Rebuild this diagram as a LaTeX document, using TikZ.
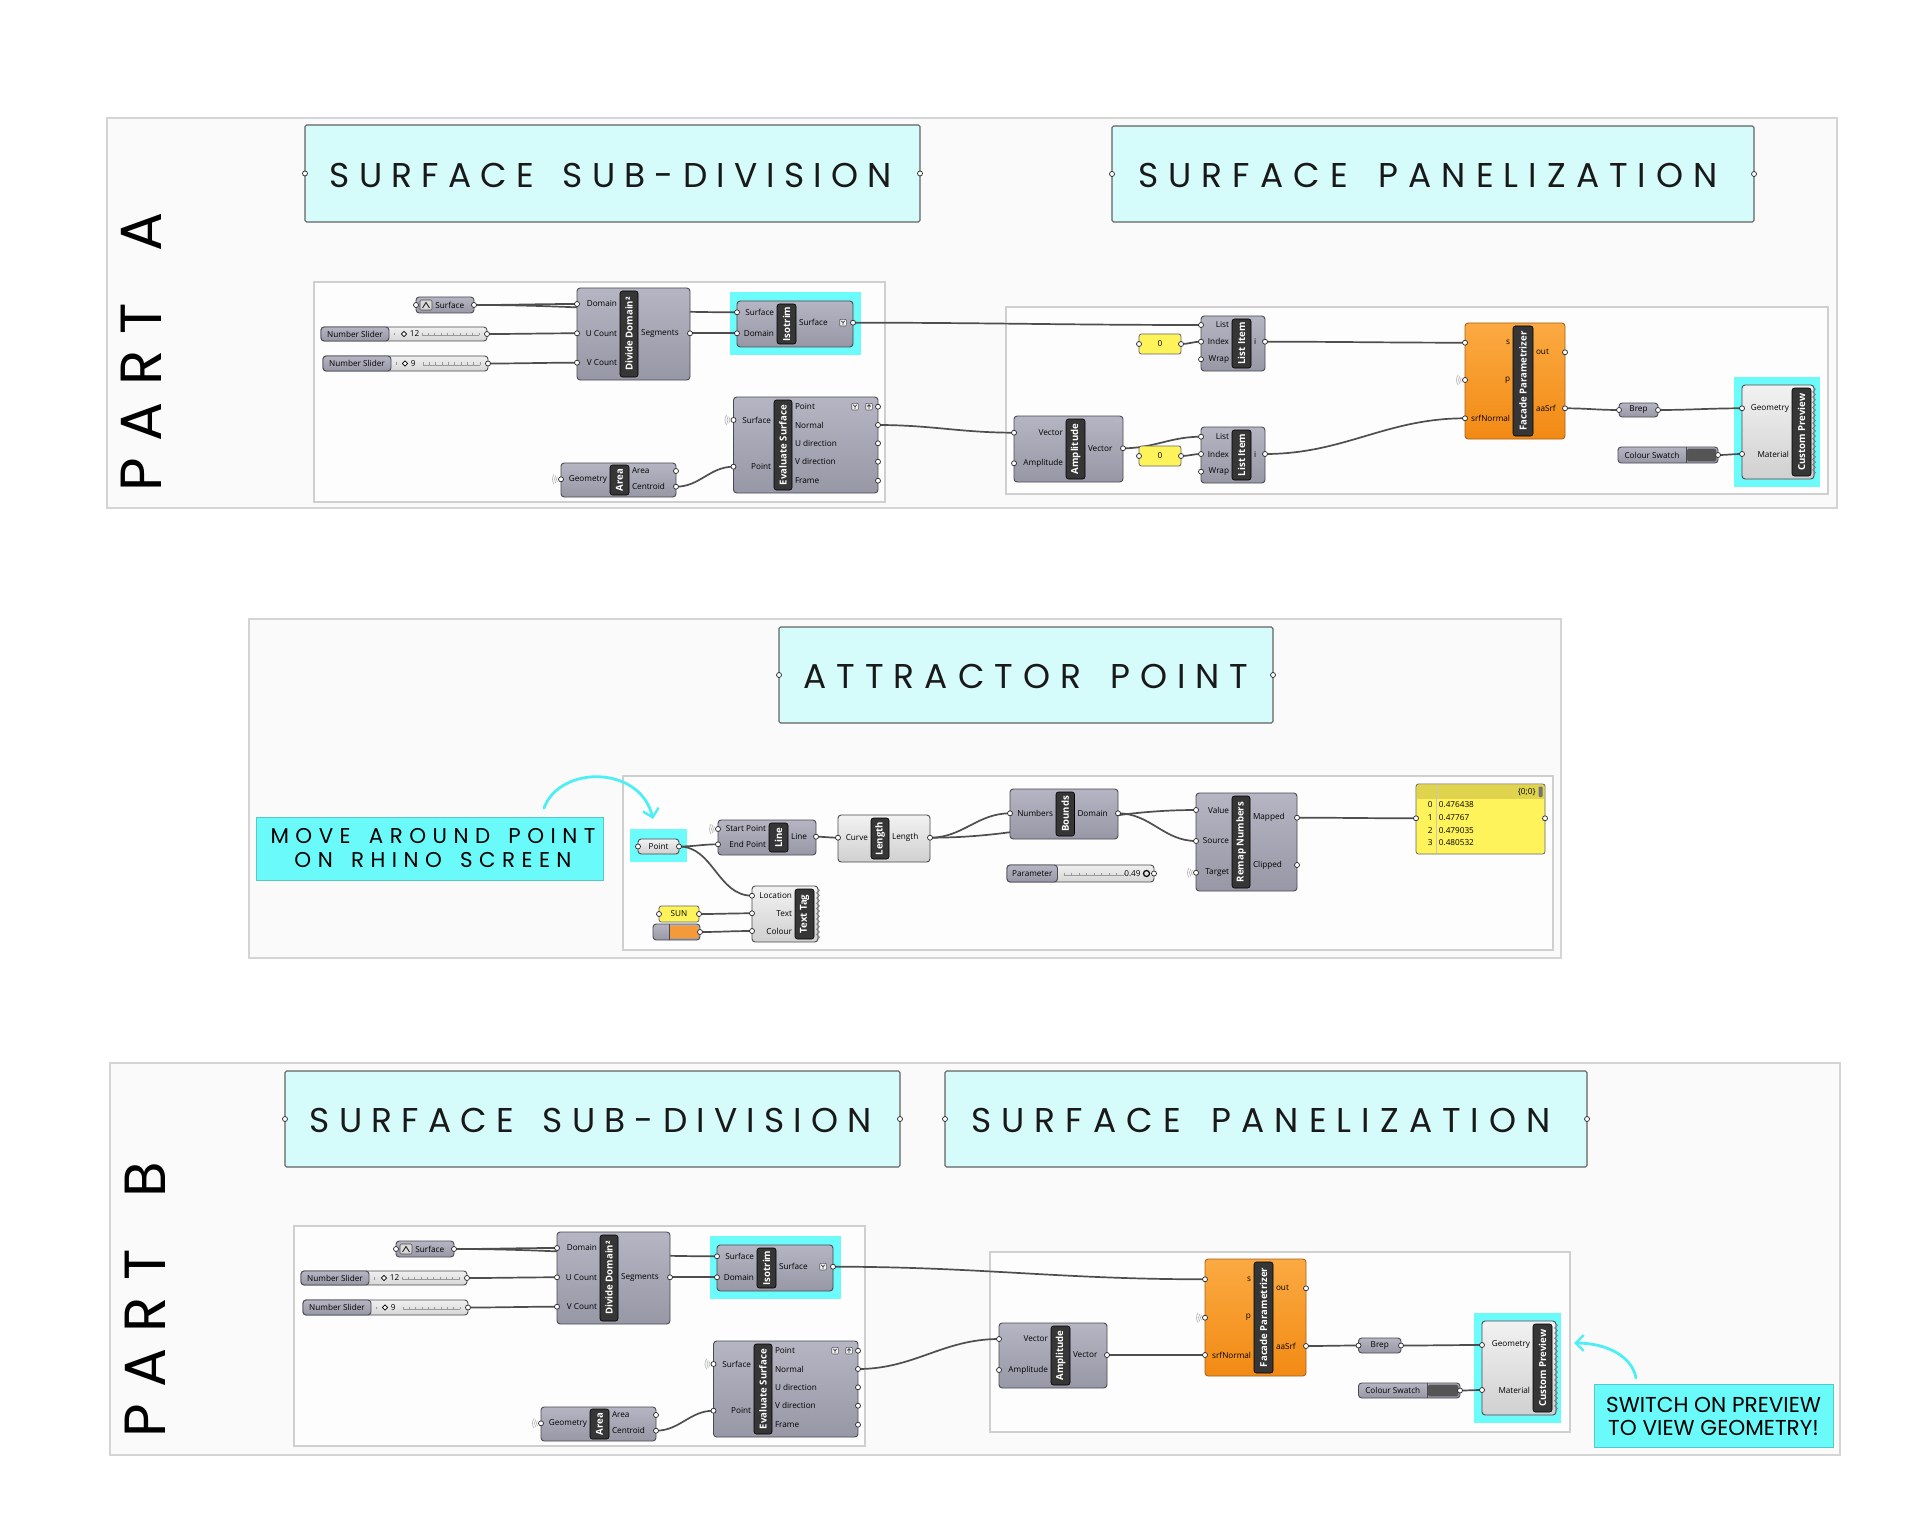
\documentclass[tikz,border=0pt]{standalone}
\usepackage{fontspec}
\setmainfont{Open Sans}
\newfontfamily\gfont{Open Sans}
\newfontfamily\hfontA[LetterSpace=26.8,WordSpace=1.55]{Poppins}
\newfontfamily\hfontB[LetterSpace=29.3,WordSpace=1.6]{Poppins}
\newfontfamily\hfontC[LetterSpace=29.2,WordSpace=1.5]{Poppins}
\newfontfamily\mfont[LetterSpace=30.2,WordSpace=1.5]{Poppins}
\newfontfamily\pfont[LetterSpace=28.4,WordSpace=1.6]{Poppins}
\newfontfamily\nfont{Poppins}
\usetikzlibrary{arrows.meta,decorations.pathmorphing}
\pgfdeclarelayer{back}
\pgfdeclarelayer{wires}
\pgfsetlayers{back,wires,main}

\definecolor{frameFill}{HTML}{FAFAFA}
\definecolor{frameLine}{HTML}{D4D4D4}
\definecolor{grpFill}{HTML}{FDFDFD}
\definecolor{grpLine}{HTML}{CFCFCF}
\definecolor{hdrFill}{HTML}{D6FBFB}
\definecolor{hdrLine}{HTML}{626262}
\definecolor{cyanHL}{HTML}{6CFBFB}
\definecolor{noteFill}{HTML}{6BFAFA}
\definecolor{arrowC}{HTML}{4EEFF4}
\definecolor{cTop}{HTML}{B6B5C3}
\definecolor{cBot}{HTML}{9897A6}
\definecolor{cLine}{HTML}{4A4A52}
\definecolor{lTop}{HTML}{F2F2F2}
\definecolor{lBot}{HTML}{D0D0D0}
\definecolor{oTop}{HTML}{FBAA42}
\definecolor{oBot}{HTML}{F28A14}
\definecolor{oLine}{HTML}{A8601C}
\definecolor{stripC}{HTML}{363636}
\definecolor{wireC}{HTML}{4E4E4E}
\definecolor{panY}{HTML}{FFF35C}
\definecolor{panH}{HTML}{E0D44E}
\definecolor{swOr}{HTML}{F59A3A}
\definecolor{swDk}{HTML}{555555}

\tikzset{
  frame/.style={fill=frameFill, draw=frameLine, line width=0.6pt},
  grp/.style={fill=grpFill, draw=grpLine, line width=0.6pt},
  hdr/.style={fill=hdrFill, draw=hdrLine, line width=0.55pt, rounded corners=0.8pt},
  hl/.style={fill=cyanHL, draw=none},
  note/.style={fill=noteFill, draw=noteFill!80!black, line width=0.3pt},
  comp/.style={draw=cLine, line width=0.45pt, rounded corners=1.6pt, top color=cTop, bottom color=cBot},
  lcomp/.style={draw=cLine, line width=0.45pt, rounded corners=1.6pt, top color=lTop, bottom color=lBot},
  ocomp/.style={draw=oLine, line width=0.45pt, rounded corners=1.6pt, top color=oTop, bottom color=oBot},
  slb/.style={draw=cLine, line width=0.45pt, rounded corners=1.6pt, top color=white!94!black, bottom color=white!84!black},
  ypan/.style={draw=black!60, line width=0.4pt, rounded corners=1.2pt, fill=panY},
  stripbox/.style={fill=stripC, draw=black, line width=0.3pt, rounded corners=1.2pt},
  stxt/.style={text=white, font=\gfont\bfseries\fontsize{4.8}{5.5}\selectfont, inner sep=0pt, rotate=90},
  ptxt/.style={text=black, font=\gfont\fontsize{4.1}{5}\selectfont, inner sep=0pt},
  wire/.style={draw=wireC, line width=0.85pt},
  htxtA/.style={font=\hfontA\fontsize{17.2}{20}\selectfont, inner sep=0pt, text=black!90},
  htxtB/.style={font=\hfontB\fontsize{17.2}{20}\selectfont, inner sep=0pt, text=black!90},
  htxtC/.style={font=\hfontC\fontsize{17.2}{20}\selectfont, inner sep=0pt, text=black!90},
  parttxt/.style={font=\pfont\fontsize{29}{32}\selectfont, inner sep=0pt, rotate=90, text=black},
  mtxt/.style={font=\mfont\fontsize{10.7}{12}\selectfont, inner sep=0pt},
  swtxt/.style={font=\nfont\fontsize{10.8}{12}\selectfont, inner sep=0pt},
  hand/.style={draw=arrowC, line width=1.4pt, line cap=round, -{Straight Barb[length=4pt,width=8pt,line width=1.2pt]}},
}

\newcommand\ghbox[6]{\node[#6, inner sep=0pt, outer sep=0pt, minimum width={(#4-#2)*0.5pt}, minimum height={(#5-#3)*0.5pt}] (#1) at ({(#2+#4)/2},{(#3+#5)/2}) {};}
\newcommand\ghstrip[6]{\ghbox{#1}{#2}{#3}{#4}{#5}{stripbox}\node[stxt] (#1-t) at (#1.center) {#6};}
\newcommand\ghgrip[1]{\filldraw[draw=black!85, fill=white, line width=0.35pt] (#1) circle[radius=1.25pt];}
\newcommand\ghin[5]{\coordinate (#1) at (#2,#3);\node[ptxt, anchor=east, xshift=-1.3pt] (#1-l) at (#4.west |- #1) {#5};\ghgrip{#1}}
\newcommand\ghout[5]{\coordinate (#1) at (#2,#3);\node[ptxt, anchor=west, xshift=1.3pt] (#1-l) at (#4.east |- #1) {#5};\ghgrip{#1}}
\newcommand\ghwl[1]{\foreach \rr in {4.5,6.5,8.5}{\draw[black!28, line width=0.35pt] (#1) ++(145:\rr) arc[start angle=145, end angle=215, radius=\rr];}}
\newcommand\ghwire[2]{\draw[wire] (#1) to[out=0,in=180] (#2);}
\newcommand\ghzig[3]{\draw[black!55, line width=0.35pt, decorate, decoration={zigzag, amplitude=0.7pt, segment length=2.6pt}] (#1,#2) -- (#1,#3);}
\newcommand\ghyp[6]{\ghbox{#1}{#2}{#3}{#4}{#5}{ypan}\node[ptxt] (#1-t) at (#1.center) {#6};%
 \coordinate (#1-in) at (#2,{(#3+#5)/2});\coordinate (#1-out) at (#4,{(#3+#5)/2});\ghgrip{#1-in}\ghgrip{#1-out}}
\newcommand\ghparam[7]{\ghbox{#1}{#2}{#3}{#4}{#5}{#7}\node[ptxt] (#1-t) at (#1.center) {#6};%
 \coordinate (#1-in) at (#2,{(#3+#5)/2});\coordinate (#1-out) at (#4,{(#3+#5)/2});\ghgrip{#1-in}\ghgrip{#1-out}}
\newcommand\ghswatch[8]{\ghbox{#1}{#2}{#3}{#4}{#5}{comp}%
 \fill[#8, rounded corners=0.8pt] (#6+0.8,#3+1.6) rectangle (#4-1.6,#5-1.6);%
 \draw[cLine, line width=0.3pt] (#6,#3) -- (#6,#5);%
 \node[ptxt] (#1-l) at ({(#2+#6)/2},{(#3+#5)/2}) {#7};%
 \coordinate (#1-out) at (#4,{(#3+#5)/2});\ghgrip{#1-out}}
\newcommand\ghslider[9]{\ghbox{#1}{#2}{#3}{#4}{#5}{slb}%
 \ghbox{#1-k}{#2}{#3}{#6}{#5}{comp}%
 \node[ptxt] (#1-l) at (#1-k.center) {#7};%
 \draw[black!40, line width=0.25pt] (#9+18,{(#3+#5)/2+1.5}) -- (#4-8,{(#3+#5)/2+1.5});%
 \foreach \t in {0,...,9}{\draw[black!40, line width=0.25pt] ({#9+18+\t*(#4-#9-26)/9},{(#3+#5)/2+1.5}) -- ++(0,-2.5);}%
 \draw[black!40, line width=0.25pt] (#6+5,{(#3+#5)/2+1.5}) -- ++(0,-2.5);%
 \draw[black, line width=0.4pt, fill=white] (#9,{(#3+#5)/2-2.6}) -- ++(2.6,2.6) -- ++(-2.6,2.6) -- ++(-2.6,-2.6) -- cycle;%
 \node[ptxt, anchor=west] (#1-v) at (#9+5.5,{(#3+#5)/2}) {#8};%
 \coordinate (#1-out) at (#4,{(#3+#5)/2});\ghgrip{#1-out}}
\newcommand\ghficon[2]{\draw[black!65, fill=black!6, line width=0.3pt, rounded corners=0.4pt] (#1-3.3,#2-3.3) rectangle (#1+3.3,#2+3.3);%
 \draw[black!75, line width=0.4pt] (#1-1.8,#2-1.9) -- (#1,#2) -- (#1+1.8,#2-1.9) (#1,#2) -- (#1,#2+2.2);}
\newcommand\ghuicon[2]{\draw[black!65, fill=black!6, line width=0.3pt, rounded corners=0.4pt] (#1-3.3,#2-3.3) rectangle (#1+3.3,#2+3.3);%
 \draw[black!75, line width=0.4pt] (#1,#2+2.2) -- (#1,#2-2) (#1-1.7,#2-0.3) -- (#1,#2-2) -- (#1+1.7,#2-0.3);}

\newcommand\ghgroupone{%
 \begin{pgfonlayer}{back}
  \ghbox{g1}{314}{282}{885}{502}{grp}
  \ghbox{isohl}{730}{292}{861}{355}{hl}
 \end{pgfonlayer}
 \ghbox{surf}{416}{297}{474}{313}{comp}
 \draw[black!70, fill=white!85!black, line width=0.3pt, rounded corners=0.6pt] (420,300) rectangle (432,310);
 \draw[black!85, line width=0.45pt] (422.5,308) -- (426,302.5) -- (429.5,308);
 \node[ptxt, anchor=west] (surf-l) at (435,305) {Surface};
 \coordinate (surf-in) at (416,305);\coordinate (surf-out) at (474,305);
 \ghgrip{surf-in}\ghgrip{surf-out}
 \ghslider{sl1}{321}{327}{487}{341}{389}{Number Slider}{12}{404}
 \ghslider{sl2}{323}{356}{488}{371}{391}{Number Slider}{9}{405}
 \ghbox{dd}{577}{288}{690}{380}{comp}
 \ghstrip{dd-s}{620}{291}{638}{377}{Divide Domain²}
 \ghin{dd-dom}{577}{304}{dd-s}{Domain}
 \ghin{dd-u}{577}{333.3}{dd-s}{U Count}
 \ghin{dd-v}{577}{362.7}{dd-s}{V Count}
 \ghout{dd-seg}{690}{333.3}{dd-s}{Segments}
 \ghbox{iso}{737}{301}{853}{347}{comp}
 \ghstrip{iso-s}{777}{304}{796}{344}{Isotrim}
 \ghin{iso-srf}{737}{312.3}{iso-s}{Surface}
 \ghin{iso-dom}{737}{333.3}{iso-s}{Domain}
 \ghout{iso-out}{853}{322.7}{iso-s}{Surface}
 \ghficon{843}{322.7}
 \ghbox{evs}{733.5}{397}{878}{493}{comp}
 \ghstrip{evs-s}{774}{400}{792}{490}{Evaluate Surface}
 \ghin{evs-srf}{733.5}{420}{evs-s}{Surface}
 \ghin{evs-pt}{733.5}{466.7}{evs-s}{Point}
 \ghout{evs-p}{878}{406.7}{evs-s}{Point}
 \ghout{evs-n}{878}{425}{evs-s}{Normal}
 \ghout{evs-u}{878}{443.3}{evs-s}{U direction}
 \ghout{evs-v}{878}{461.7}{evs-s}{V direction}
 \ghout{evs-f}{878}{480.7}{evs-s}{Frame}
 \ghficon{855}{406.7}\ghuicon{869}{406.7}
 \ghwl{evs-srf}
 \ghbox{ar}{561}{463}{676}{497}{comp}
 \ghstrip{ar-s}{610}{465}{629}{495}{Area}
 \ghin{ar-g}{561}{479.3}{ar-s}{Geometry}
 \ghout{ar-a}{676}{471}{ar-s}{Area}
 \ghout{ar-c}{676}{486.7}{ar-s}{Centroid}
 \ghwl{ar-g}
 \begin{pgfonlayer}{wires}
  \ghwire{surf-out}{dd-dom}
  \ghwire{surf-out}{iso-srf}
  \ghwire{sl1-out}{dd-u}
  \ghwire{sl2-out}{dd-v}
  \ghwire{dd-seg}{iso-dom}
  \ghwire{ar-c}{evs-pt}
 \end{pgfonlayer}
}

\begin{document}
\begin{tikzpicture}[x=0.5pt,y=-0.5pt]
\useasboundingbox (0,0) rectangle (1920,1535);
\begin{pgfonlayer}{back}
 \fill[white] (0,0) rectangle (1920,1535);
 \ghbox{frA}{107}{118}{1837}{508}{frame}
 \ghbox{frM}{249}{619}{1561}{958}{frame}
 \ghbox{frB}{110}{1063}{1840}{1455}{frame}
 \ghbox{gA2}{1006}{307}{1828}{494}{grp}
 \ghbox{gM}{623}{776}{1553}{950}{grp}
 \ghbox{gB2}{990}{1252}{1570}{1432}{grp}
 \ghbox{cpA-hl}{1734}{377}{1820}{487}{hl}
 \ghbox{cpB-hl}{1474}{1313}{1561}{1423}{hl}
 \ghbox{pt-hl}{630}{829}{687}{862}{hl}
\end{pgfonlayer}

% headers
\ghbox{hA1}{305}{125}{920}{222}{hdr}
\node[htxtA] (hA1-t) at (611,175) {SURFACE SUB-DIVISION};
\ghgrip{hA1.west}\ghgrip{hA1.east}
\ghbox{hA2}{1112}{126}{1754}{222}{hdr}
\node[htxtB] (hA2-t) at (1428,175) {SURFACE PANELIZATION};
\ghgrip{hA2.west}\ghgrip{hA2.east}
\ghbox{hM}{779}{627}{1273}{723}{hdr}
\node[htxtC] (hM-t) at (1026,676) {ATTRACTOR POINT};
\ghgrip{hM.west}\ghgrip{hM.east}
\ghbox{hB1}{285}{1071}{900}{1167}{hdr}
\node[htxtA] (hB1-t) at (591,1120) {SURFACE SUB-DIVISION};
\ghgrip{hB1.west}\ghgrip{hB1.east}
\ghbox{hB2}{945}{1071}{1587}{1167}{hdr}
\node[htxtB] (hB2-t) at (1261,1120) {SURFACE PANELIZATION};
\ghgrip{hB2.west}\ghgrip{hB2.east}

\node[parttxt] (pA) at (141,352) {PART A};
\node[parttxt] (pB) at (145,1300) {PART B};

% group one, A and B
\begin{scope}[name prefix=a-]
 \ghgroupone
\end{scope}
\begin{scope}[shift={(-20,944)}, name prefix=b-]
 \ghgroupone
\end{scope}

% ---------- Part A panelization ----------
\ghyp{yA1}{1139}{334}{1181}{354}{0}
\ghbox{li1}{1201}{316}{1265}{371}{comp}
\ghstrip{li1-s}{1232}{319}{1251}{368}{List Item}
\ghin{li1-l}{1201}{325}{li1-s}{List}
\ghin{li1-x}{1201}{341.7}{li1-s}{Index}
\ghin{li1-w}{1201}{359.3}{li1-s}{Wrap}
\ghout{li1-o}{1265}{341.7}{li1-s}{i}
\ghbox{ampA}{1014}{416}{1123}{482}{comp}
\ghstrip{ampA-s}{1066}{419}{1085}{479}{Amplitude}
\ghin{ampA-v}{1014}{432.7}{ampA-s}{Vector}
\ghin{ampA-a}{1014}{463.3}{ampA-s}{Amplitude}
\ghout{ampA-o}{1123}{448.3}{ampA-s}{Vector}
\ghyp{yA2}{1139}{446}{1181}{466}{0}
\ghbox{li2}{1201}{427}{1265}{483}{comp}
\ghstrip{li2-s}{1232}{430}{1251}{480}{List Item}
\ghin{li2-l}{1201}{436.7}{li2-s}{List}
\ghin{li2-x}{1201}{454}{li2-s}{Index}
\ghin{li2-w}{1201}{471.7}{li2-s}{Wrap}
\ghout{li2-o}{1265}{454}{li2-s}{i}
\ghbox{facA}{1465}{323}{1565}{439}{ocomp}
\ghstrip{facA-s}{1513}{326}{1533}{436}{Facade Parametrizer}
\ghin{facA-i}{1465}{342.7}{facA-s}{s}
\ghin{facA-p}{1465}{380}{facA-s}{p}
\ghin{facA-n}{1465}{418.3}{facA-s}{srfNormal}
\ghout{facA-o}{1565}{352.3}{facA-s}{out}
\ghout{facA-a}{1565}{408.3}{facA-s}{aaSrf}
\ghwl{facA-p}
\ghparam{brA}{1619}{403}{1658}{417}{Brep}{comp}
\ghbox{cpA}{1742}{385}{1814}{479}{lcomp}
\ghstrip{cpA-s}{1792}{388}{1811}{476}{Custom Preview}
\ghzig{1814}{388}{476}
\ghin{cpA-g}{1742}{408.3}{cpA-s}{Geometry}
\ghin{cpA-m}{1742}{454}{cpA-s}{Material}
\ghswatch{csA}{1618}{447}{1718}{463}{1686}{Colour Swatch}{swDk}
\begin{pgfonlayer}{wires}
 \ghwire{a-iso-out}{li1-l}
 \ghwire{yA1-out}{li1-x}
 \ghwire{li1-o}{facA-i}
 \ghwire{a-evs-n}{ampA-v}
 \ghwire{ampA-o}{li2-l}
 \ghwire{yA2-out}{li2-x}
 \ghwire{li2-o}{facA-n}
 \ghwire{facA-a}{brA-in}
 \ghwire{brA-out}{cpA-g}
 \ghwire{csA-out}{cpA-m}
\end{pgfonlayer}

% ---------- Attractor ----------
\ghbox{mv}{256}{817}{603}{880}{note}
\node[mtxt] (mv-1) at (433,836) {MOVE AROUND POINT};
\node[mtxt] (mv-2) at (433,860) {ON RHINO SCREEN};
\coordinate (arM-a) at (544,808);
\coordinate (arM-b) at (653,819);
\draw[hand] (arM-a) .. controls (560,765) and (640,765) .. (arM-b);

\ghparam{pt}{638}{839}{679}{854}{Point}{lcomp}
\ghbox{ln}{718}{820}{816}{855}{comp}
\ghstrip{ln-s}{769}{823}{788}{852}{Line}
\ghin{ln-a}{718}{829}{ln-s}{Start Point}
\ghin{ln-b}{718}{844.3}{ln-s}{End Point}
\ghout{ln-o}{816}{836.7}{ln-s}{Line}
\ghwl{ln-a}
\ghbox{tt}{752}{886}{818}{942}{lcomp}
\ghstrip{tt-s}{795}{889}{814}{939}{Text Tag}
\ghzig{818}{889}{939}
\ghin{tt-loc}{752}{895.7}{tt-s}{Location}
\ghin{tt-t}{752}{913.3}{tt-s}{Text}
\ghin{tt-c}{752}{931}{tt-s}{Colour}
\ghyp{sun}{659}{906}{699}{922}{SUN}
\ghswatch{sw2}{653}{924}{700}{940}{669}{}{swOr}
\ghbox{len}{838}{815}{930}{862}{lcomp}
\ghstrip{len-s}{871}{818}{889}{859}{Length}
\ghin{len-c}{838}{837.7}{len-s}{Curve}
\ghout{len-o}{930}{837.7}{len-s}{Length}
\ghbox{bnd}{1010}{789}{1118}{839}{comp}
\ghstrip{bnd-s}{1056}{792}{1074.5}{836}{Bounds}
\ghin{bnd-n}{1010}{813.3}{bnd-s}{Numbers}
\ghout{bnd-o}{1118}{813.3}{bnd-s}{Domain}
\ghbox{rmp}{1196}{793}{1297}{891}{comp}
\ghstrip{rmp-s}{1232}{796}{1250}{888}{Remap Numbers}
\ghin{rmp-v}{1196}{810}{rmp-s}{Value}
\ghin{rmp-s2}{1196}{841}{rmp-s}{Source}
\ghin{rmp-t}{1196}{872.7}{rmp-s}{Target}
\ghout{rmp-m}{1297}{817.7}{rmp-s}{Mapped}
\ghout{rmp-c}{1297}{865}{rmp-s}{Clipped}
\ghwl{rmp-t}
% parameter slider
\ghbox{prm}{1007}{865}{1154}{882}{slb}
\ghbox{prm-k}{1007}{865}{1057.5}{882}{comp}
\node[ptxt] (prm-l) at (prm-k.center) {Parameter};
\draw[black!40, line width=0.25pt] (1064,875) -- (1124,875);
\foreach \t in {0,...,8}{\draw[black!40, line width=0.25pt] ({1064+\t*7.5},875) -- ++(0,-2.5);}
\node[ptxt, anchor=east] (prm-v) at (1141,873.5) {0.49};
\draw[black, line width=0.6pt] (1146.5,873.5) circle[radius=1.5pt];
\coordinate (prm-out) at (1154,873.5);\ghgrip{prm-out}
% panel
\ghbox{pan}{1416}{784}{1545}{854}{ypan}
\fill[panH] (1416.8,784.8) rectangle (1544.2,799);
\draw[black!22, line width=0.3pt] (1436,785) -- (1436,853.4);
\node[ptxt, anchor=east] (pan-h) at (1536,791.8) {\{0;0\}};
\fill[black!55, rounded corners=0.5pt] (1538.5,786.5) rectangle (1542.5,797);
\node[ptxt, anchor=east] (pan-i0) at (1433,804.3) {0};
\node[ptxt, anchor=west] (pan-v0) at (1438.5,804.3) {0.476438};
\node[ptxt, anchor=east] (pan-i1) at (1433,817.3) {1};
\node[ptxt, anchor=west] (pan-v1) at (1438.5,817.3) {0.47767};
\node[ptxt, anchor=east] (pan-i2) at (1433,830.3) {2};
\node[ptxt, anchor=west] (pan-v2) at (1438.5,830.3) {0.479035};
\node[ptxt, anchor=east] (pan-i3) at (1433,842.7) {3};
\node[ptxt, anchor=west] (pan-v3) at (1438.5,842.7) {0.480532};
\coordinate (pan-in) at (1416,818.3);\coordinate (pan-out) at (1545,818.3);
\ghgrip{pan-in}\ghgrip{pan-out}
\begin{pgfonlayer}{wires}
 \ghwire{pt-out}{ln-b}
 \ghwire{pt-out}{tt-loc}
 \ghwire{sun-out}{tt-t}
 \ghwire{sw2-out}{tt-c}
 \ghwire{ln-o}{len-c}
 \ghwire{len-o}{bnd-n}
 \ghwire{len-o}{rmp-v}
 \ghwire{bnd-o}{rmp-s2}
 \ghwire{rmp-m}{pan-in}
\end{pgfonlayer}

% ---------- Part B panelization ----------
\ghbox{facB}{1205}{1259}{1306}{1376}{ocomp}
\ghstrip{facB-s}{1254}{1262}{1273}{1373}{Facade Parametrizer}
\ghin{facB-i}{1205}{1279.3}{facB-s}{s}
\ghin{facB-p}{1205}{1317.7}{facB-s}{p}
\ghin{facB-n}{1205}{1355}{facB-s}{srfNormal}
\ghout{facB-o}{1306}{1288.3}{facB-s}{out}
\ghout{facB-a}{1306}{1346}{facB-s}{aaSrf}
\ghwl{facB-p}
\ghbox{ampB}{999}{1323}{1107}{1388}{comp}
\ghstrip{ampB-s}{1051}{1326}{1070}{1385}{Amplitude}
\ghin{ampB-v}{999}{1339}{ampB-s}{Vector}
\ghin{ampB-a}{999}{1370}{ampB-s}{Amplitude}
\ghout{ampB-o}{1107}{1355}{ampB-s}{Vector}
\ghparam{brB}{1358.5}{1338}{1401}{1353}{Brep}{comp}
\ghbox{cpB}{1482}{1321}{1556}{1415}{lcomp}
\ghstrip{cpB-s}{1533}{1324}{1552}{1412}{Custom Preview}
\ghzig{1556}{1324}{1412}
\ghin{cpB-g}{1482}{1345}{cpB-s}{Geometry}
\ghin{cpB-m}{1482}{1390}{cpB-s}{Material}
\ghswatch{csB}{1358.5}{1383}{1460}{1398}{1427}{Colour Swatch}{swDk}
\begin{pgfonlayer}{wires}
 \ghwire{b-iso-out}{facB-i}
 \ghwire{b-evs-n}{ampB-v}
 \ghwire{ampB-o}{facB-n}
 \ghwire{facB-a}{brB-in}
 \ghwire{brB-out}{cpB-g}
 \ghwire{csB-out}{cpB-m}
\end{pgfonlayer}

\ghbox{swn}{1594}{1384}{1833}{1447}{note}
\node[swtxt] (swn-1) at (1713.5,1405) {SWITCH ON PREVIEW};
\node[swtxt] (swn-2) at (1713.5,1428) {TO VIEW GEOMETRY!};
\coordinate (arB-a) at (1636,1378);
\coordinate (arB-b) at (1574,1343);
\draw[hand] (arB-a) .. controls (1632,1356) and (1606,1343) .. (arB-b);
\end{tikzpicture}
\end{document}
